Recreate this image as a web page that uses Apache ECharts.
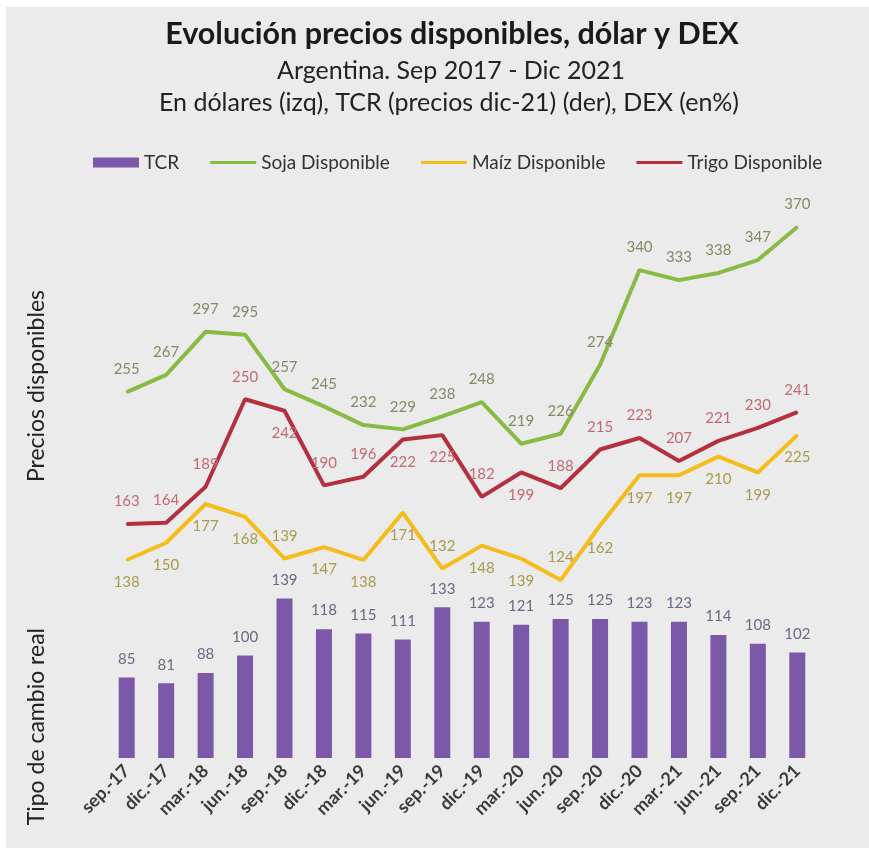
<!DOCTYPE html>
<html><head><meta charset="utf-8">
<script src="https://cdn.jsdelivr.net/npm/echarts@6/dist/echarts.min.js"></script>
<style>html,body{margin:0;padding:0;background:#ffffff}#c{width:869px;height:848px}</style>
</head><body><div id="c"></div>
<script>
const categories = ['sep.-17','dic.-17','mar.-18','jun.-18','sep.-18','dic.-18','mar.-19','jun.-19','sep.-19','dic.-19','mar.-20','jun.-20','sep.-20','dic.-20','mar.-21','jun.-21','sep.-21','dic.-21'];
const tcr   = [85, 81, 88, 100, 139, 118, 115, 111, 133, 123, 121, 125, 125, 123, 123, 114, 108, 102];
const soja  = [255, 267, 297, 295, 257, 245, 232, 229, 238, 248, 219, 226, 274, 340, 333, 338, 347, 370];
const maiz  = [138, 150, 177, 168, 139, 147, 138, 171, 132, 148, 139, 124, 162, 197, 197, 210, 199, 225];
const trigo = [163, 164, 189, 250, 242, 190, 196, 222, 225, 182, 199, 188, 215, 223, 207, 221, 230, 241];

const trigoLabelPos = ['top','top','top','top','bottom','top','top','bottom','bottom','top','bottom','top','top','top','top','top','top','top'];
const maizLabelPos  = ['bottom','bottom','bottom','bottom','top','bottom','bottom','bottom','top','bottom','bottom','top','bottom','bottom','bottom','bottom','bottom','bottom'];

const F = 'Lato, "Open Sans", sans-serif';
const LINE_ICON = 'path://M0,0L0,0M0,10L0,10M0,3.5H50V6.5H0Z';
const chart = echarts.init(document.getElementById('c'));

function withPos(vals, pos){
  return vals.map((v,i)=>({value:v, label:{position:pos[i]}}));
}

chart.setOption({
  backgroundColor:'#ffffff',
  animation:false,
  title:[
    {text:'Evolución precios disponibles, dólar y DEX', left:447, textAlign:'center', top:14,
     textStyle:{fontFamily:F, fontSize:30.5, fontWeight:'bold', color:'#1a1a1a'}},
    {text:'Argentina. Sep 2017 - Dic 2021', left:446, textAlign:'center', top:53,
     textStyle:{fontFamily:F, fontSize:25, fontWeight:'normal', color:'#222'}},
    {text:'En dólares (izq), TCR (precios dic-21) (der), DEX (en%)', left:444, textAlign:'center', top:85,
     textStyle:{fontFamily:F, fontSize:25, fontWeight:'normal', color:'#222'}}
  ],
  legend:{
    top:148, left:88, itemGap:31, itemWidth:46, itemHeight:10,
    textStyle:{fontFamily:F, fontSize:19, color:'#333'},
    data:[
      {name:'TCR', icon:'rect'},
      {name:'Soja Disponible', icon:LINE_ICON},
      {name:'Maíz Disponible', icon:LINE_ICON},
      {name:'Trigo Disponible', icon:LINE_ICON}
    ]
  },
  grid:{left:107, right:52, top:184, bottom:90},
  xAxis:{
    type:'category', data:categories, boundaryGap:true,
    axisLine:{show:false}, axisTick:{show:false},
    axisLabel:{rotate:45, interval:0, fontFamily:F, fontSize:18, fontWeight:'bold', color:'#3a3a3a', margin:10}
  },
  yAxis:[
    {type:'value', min:0, max:400, show:false},
    {type:'value', min:30, max:422, show:false}
  ],
  series:[
    {name:'TCR', type:'bar', yAxisIndex:1, data:tcr, barWidth:16,
     itemStyle:{color:'#7b59a8'},
     label:{show:true, position:'top', distance:11, fontFamily:F, fontSize:15, color:'#6c6886'}},
    {name:'Soja Disponible', type:'line', data:soja, symbol:'circle', symbolSize:2, showSymbol:true,
     lineStyle:{width:4, color:'#88bb44'}, itemStyle:{color:'#88bb44'},
     label:{show:true, position:'top', distance:14, fontFamily:F, fontSize:15, color:'#858a62'}},
    {name:'Maíz Disponible', type:'line', data:withPos(maiz, maizLabelPos), symbol:'circle', symbolSize:2, showSymbol:true,
     lineStyle:{width:4, color:'#f5bd1c'}, itemStyle:{color:'#f5bd1c'},
     label:{show:true, distance:14, fontFamily:F, fontSize:15, color:'#a99a4c'}},
    {name:'Trigo Disponible', type:'line', data:withPos(trigo, trigoLabelPos), symbol:'circle', symbolSize:2, showSymbol:true,
     lineStyle:{width:4, color:'#b4303e'}, itemStyle:{color:'#b4303e'},
     label:{show:true, distance:14, fontFamily:F, fontSize:15, color:'#c26a74'}}
  ],
  graphic:[
    {type:'rect', left:6, top:7, z:-10, shape:{width:869, height:848}, style:{fill:'#ebebeb'}},
    {type:'text', left:25, top:290, rotation:Math.PI/2,
     style:{text:'Precios disponibles', fontFamily:F, fontSize:23, fill:'#222'}},
    {type:'text', left:25, top:628, rotation:Math.PI/2,
     style:{text:'Tipo de cambio real', fontFamily:F, fontSize:23, fill:'#222'}}
  ]
});
</script></body></html>
